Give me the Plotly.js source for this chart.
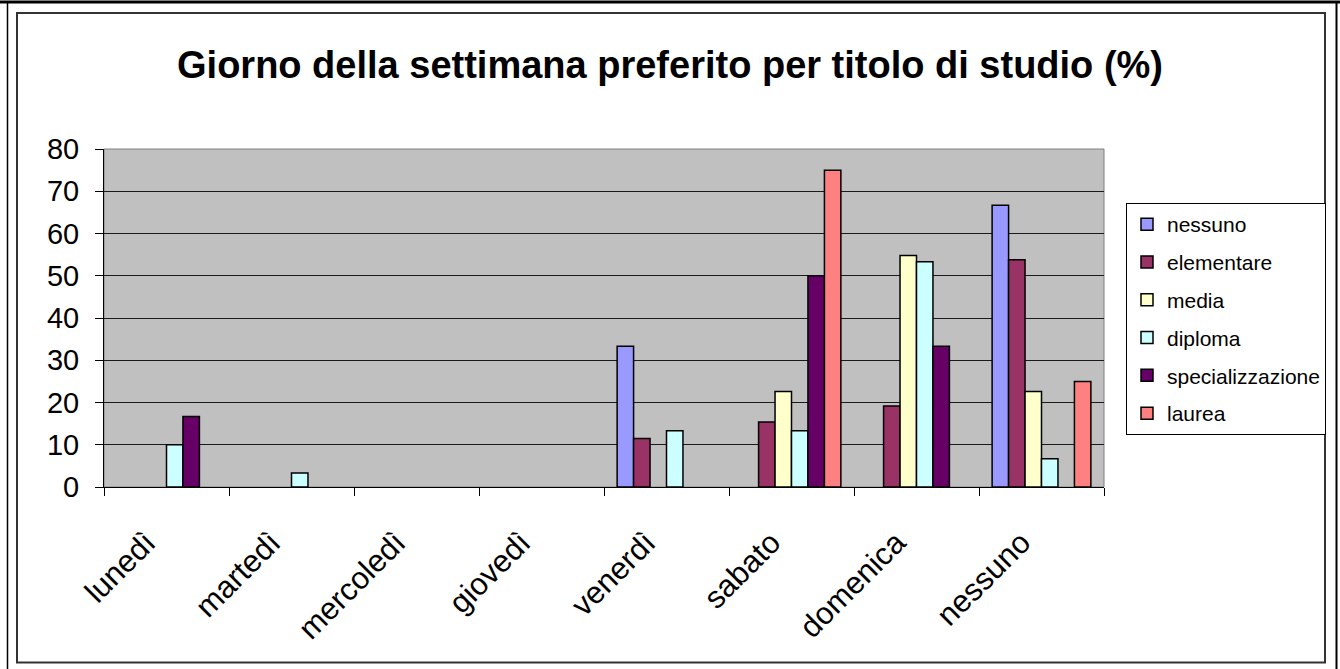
<!DOCTYPE html>
<html>
<head>
<meta charset="utf-8">
<script src="https://cdn.plot.ly/plotly-3.0.1.min.js"></script>
<style>
html,body{margin:0;padding:0;background:#fff;}
#chart{width:1340px;height:669px;}
</style>
</head>
<body>
<div id="chart"></div>
<script>
// Categories (day of week)
const giorni = ["lunedì", "martedì", "mercoledì", "giovedì", "venerdì", "sabato", "domenica", "nessuno"];
// Series (titolo di studio), values in %
const nessuno          = [null, null, null, null, 33.3, null, null, 66.7];
const elementare       = [null, null, null, null, 11.5, 15.4, 19.2, 53.8];
const media            = [null, null, null, null, null, 22.6, 54.8, 22.6];
const diploma          = [10.0, 3.3, null, null, 13.3, 13.3, 53.3, 6.7];
const specializzazione = [16.7, null, null, null, null, 50.0, 33.3, null];
const laurea           = [null, null, null, null, null, 75.0, null, 25.0];
const seriesNames  = ["nessuno", "elementare", "media", "diploma", "specializzazione", "laurea"];
const seriesValues = [nessuno, elementare, media, diploma, specializzazione, laurea];
const seriesColors = ["#9999FF", "#993366", "#FFFFCC", "#CCFFFF", "#660066", "#FF8080"];
const yTicks = [0, 10, 20, 30, 40, 50, 60, 70, 80];
const titolo = "Giorno della settimana preferito per titolo di studio (%)";

// layout geometry (pixels -> paper)
const L = 104, R = 1104, T = 149, B = 487, W = 1340, H = 669;
const px = x => (x - L) / (R - L);
const py = y => (B - y) / (B - T);

const traces = seriesNames.map((n, i) => ({
  type: "bar",
  name: n,
  x: giorni,
  y: seriesValues[i],
  legendgroup: n,
  marker: {color: seriesColors[i], line: {color: "#000", width: 1.5}},
  hoverinfo: "x+y+name"
}));

const font = "Arial, 'Liberation Sans', sans-serif";

const layout = {
  width: W, height: H,
  margin: {l: L, r: W - R, t: T, b: H - B, pad: 0},
  paper_bgcolor: "#fff",
  plot_bgcolor: "#C0C0C0",
  font: {family: font, color: "#000"},
  title: {
    text: "<b>" + titolo + "</b>",
    font: {family: font, size: 38, color: "#000"},
    x: 0.5, xanchor: "center", xref: "container",
    y: 1 - 65 / H, yanchor: "middle", yref: "container"
  },
  barmode: "group",
  bargap: 0.21,
  bargroupgap: 0,
  showlegend: true,
  legend: {
    x: px(1126), y: py(203), xanchor: "left", yanchor: "top",
    bgcolor: "#fff", bordercolor: "#000", borderwidth: 1,
    font: {family: font, size: 21, color: "#000"},
    traceorder: "grouped", tracegroupgap: 7.5,
    itemwidth: 30
  },
  xaxis: {
    type: "category",
    tickson: "boundaries",
    ticks: "outside", ticklen: 8, tickcolor: "#000", tickwidth: 1,
    tickangle: -45,
    tickfont: {family: font, size: 31, color: "#000"},
    ticklabelstandoff: 24,
    ticklabelshift: -20,
    showline: true, linecolor: "#000", linewidth: 1,
    showgrid: false, zeroline: false,
    fixedrange: true
  },
  yaxis: {
    range: [0, 80],
    tickvals: yTicks,
    ticks: "outside", ticklen: 8, tickcolor: "#000", tickwidth: 1,
    tickfont: {family: font, size: 29, color: "#000"},
    ticklabelstandoff: 10,
    showline: true, linecolor: "#000", linewidth: 1,
    showgrid: true, gridcolor: "#1a1a1a", gridwidth: 1,
    zeroline: false,
    fixedrange: true
  },
  shapes: [
    // plot area border (gray)
    {type: "rect", xref: "paper", yref: "paper", x0: 0, x1: 1, y0: 0, y1: 1,
     line: {color: "#808080", width: 1}, layer: "below"},
    // inner chart frame
    {type: "rect", xref: "paper", yref: "paper", x0: px(17), x1: px(1325), y0: py(662.5), y1: py(13),
     line: {color: "#333", width: 2}},
    // outer frame lines
    {type: "line", xref: "paper", yref: "paper", x0: px(0), x1: px(1340), y0: py(2), y1: py(2),
     line: {color: "#000", width: 3}},
    {type: "line", xref: "paper", yref: "paper", x0: px(7.5), x1: px(7.5), y0: py(2), y1: py(669),
     line: {color: "#000", width: 1.5}},
    {type: "line", xref: "paper", yref: "paper", x0: px(1336.5), x1: px(1336.5), y0: py(2), y1: py(669),
     line: {color: "#000", width: 2}}
  ]
};

Plotly.newPlot("chart", traces, layout, {displayModeBar: false, responsive: false});
</script>
</body>
</html>
